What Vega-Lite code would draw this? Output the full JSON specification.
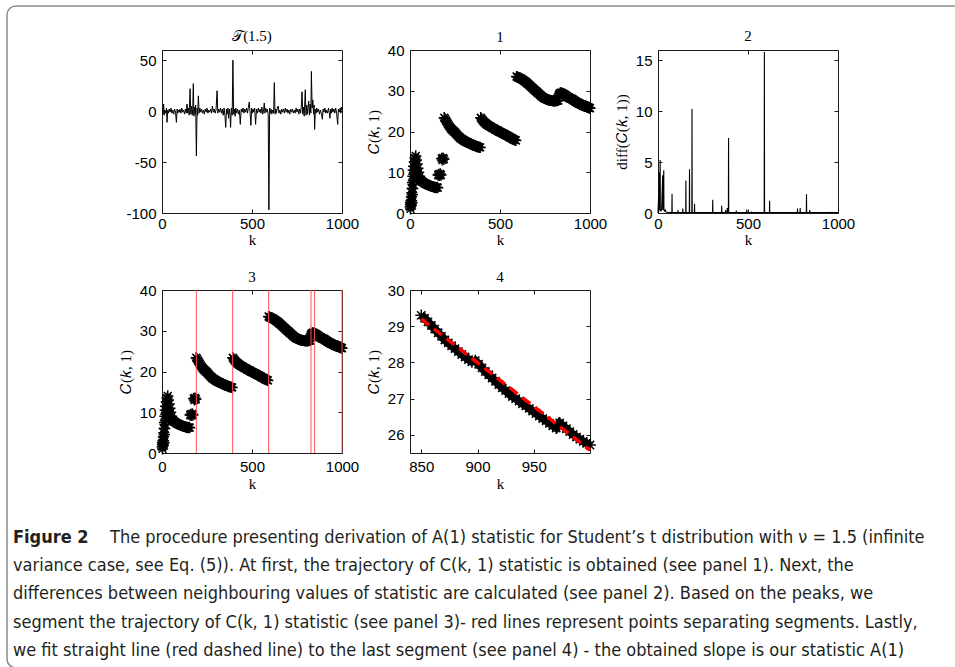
{
"$schema": "https://vega.github.io/schema/vega-lite/v6.json",
"padding": {"left": 6, "top": 5, "right": 0, "bottom": 0},
"background": "white",
"bounds": "flush",
"columns": 4,
"align": "each",
"spacing": {"row": 77, "column": 68},
"datasets": {
"T": [{"k":0,"v":2},{"k":5,"v":-3},{"k":9,"v":7},{"k":12,"v":-4},{"k":15,"v":1},{"k":20,"v":-2},{"k":25,"v":3},{"k":28,"v":-11},{"k":32,"v":1},{"k":36,"v":-2},{"k":40,"v":2},{"k":45,"v":-1},{"k":50,"v":3},{"k":55,"v":-2},{"k":60,"v":1},{"k":65,"v":-3},{"k":70,"v":2},{"k":75,"v":-1},{"k":80,"v":-11},{"k":84,"v":2},{"k":88,"v":-2},{"k":92,"v":1},{"k":96,"v":-1},{"k":100,"v":2},{"k":105,"v":-2},{"k":110,"v":3},{"k":115,"v":-1},{"k":120,"v":1},{"k":125,"v":-3},{"k":130,"v":2},{"k":135,"v":-2},{"k":139,"v":7},{"k":143,"v":-2},{"k":147,"v":3},{"k":151,"v":-4},{"k":156,"v":22},{"k":160,"v":-3},{"k":164,"v":5},{"k":168,"v":-4},{"k":171,"v":3},{"k":174,"v":27},{"k":177,"v":-5},{"k":180,"v":4},{"k":184,"v":-3},{"k":187,"v":6},{"k":191,"v":-44},{"k":195,"v":3},{"k":198,"v":-4},{"k":202,"v":15},{"k":206,"v":-2},{"k":210,"v":3},{"k":215,"v":-1},{"k":220,"v":2},{"k":225,"v":-2},{"k":230,"v":1},{"k":235,"v":-3},{"k":240,"v":2},{"k":245,"v":-1},{"k":250,"v":3},{"k":255,"v":-2},{"k":260,"v":1},{"k":265,"v":-1},{"k":270,"v":2},{"k":275,"v":-2},{"k":280,"v":5},{"k":285,"v":-1},{"k":290,"v":2},{"k":295,"v":-2},{"k":300,"v":1},{"k":306,"v":20},{"k":310,"v":-2},{"k":315,"v":2},{"k":320,"v":-1},{"k":325,"v":3},{"k":330,"v":-2},{"k":335,"v":2},{"k":340,"v":-4},{"k":345,"v":3},{"k":350,"v":-5},{"k":354,"v":-16},{"k":358,"v":2},{"k":362,"v":-3},{"k":366,"v":3},{"k":370,"v":-7},{"k":374,"v":2},{"k":378,"v":-3},{"k":381,"v":-16},{"k":385,"v":3},{"k":390,"v":-4},{"k":394,"v":50},{"k":398,"v":-3},{"k":402,"v":2},{"k":406,"v":-5},{"k":410,"v":3},{"k":415,"v":-2},{"k":420,"v":2},{"k":425,"v":-3},{"k":430,"v":1},{"k":435,"v":-13},{"k":440,"v":2},{"k":445,"v":-1},{"k":450,"v":3},{"k":455,"v":-2},{"k":460,"v":2},{"k":465,"v":-1},{"k":470,"v":3},{"k":475,"v":-2},{"k":480,"v":4},{"k":485,"v":9},{"k":490,"v":-3},{"k":494,"v":-14},{"k":498,"v":3},{"k":502,"v":-2},{"k":506,"v":2},{"k":510,"v":-1},{"k":515,"v":3},{"k":520,"v":-13},{"k":525,"v":2},{"k":530,"v":-2},{"k":535,"v":3},{"k":540,"v":-1},{"k":545,"v":2},{"k":550,"v":-2},{"k":555,"v":4},{"k":560,"v":-3},{"k":565,"v":2},{"k":568,"v":8},{"k":572,"v":-2},{"k":576,"v":3},{"k":580,"v":-1},{"k":585,"v":2},{"k":590,"v":-3},{"k":594,"v":-97},{"k":598,"v":3},{"k":602,"v":-2},{"k":606,"v":2},{"k":610,"v":-3},{"k":615,"v":1},{"k":620,"v":-2},{"k":624,"v":28},{"k":628,"v":-3},{"k":632,"v":2},{"k":636,"v":-2},{"k":640,"v":3},{"k":646,"v":5},{"k":650,"v":-2},{"k":655,"v":1},{"k":660,"v":-3},{"k":665,"v":2},{"k":670,"v":-1},{"k":675,"v":2},{"k":680,"v":-2},{"k":685,"v":3},{"k":690,"v":-1},{"k":695,"v":2},{"k":700,"v":-2},{"k":705,"v":1},{"k":710,"v":-3},{"k":715,"v":2},{"k":720,"v":-1},{"k":725,"v":2},{"k":730,"v":-2},{"k":735,"v":1},{"k":740,"v":-2},{"k":745,"v":3},{"k":750,"v":-1},{"k":755,"v":2},{"k":760,"v":-3},{"k":765,"v":2},{"k":770,"v":-2},{"k":774,"v":5},{"k":778,"v":19},{"k":782,"v":-3},{"k":786,"v":4},{"k":790,"v":-5},{"k":796,"v":21},{"k":800,"v":-4},{"k":804,"v":6},{"k":808,"v":-3},{"k":812,"v":5},{"k":815,"v":10},{"k":819,"v":-4},{"k":823,"v":7},{"k":827,"v":-2},{"k":830,"v":39},{"k":834,"v":3},{"k":838,"v":11},{"k":842,"v":-3},{"k":845,"v":6},{"k":848,"v":-18},{"k":852,"v":2},{"k":856,"v":-2},{"k":860,"v":3},{"k":865,"v":-1},{"k":870,"v":2},{"k":875,"v":-3},{"k":880,"v":1},{"k":885,"v":-2},{"k":891,"v":-8},{"k":895,"v":2},{"k":900,"v":-1},{"k":905,"v":3},{"k":910,"v":-2},{"k":915,"v":1},{"k":920,"v":-2},{"k":925,"v":3},{"k":929,"v":-1},{"k":933,"v":-7},{"k":937,"v":2},{"k":941,"v":-2},{"k":945,"v":3},{"k":950,"v":-1},{"k":955,"v":2},{"k":960,"v":-2},{"k":965,"v":3},{"k":970,"v":-2},{"k":976,"v":-13},{"k":980,"v":2},{"k":985,"v":-1},{"k":990,"v":3},{"k":994,"v":-2},{"k":996,"v":4},{"k":1000,"v":1}],
"C": [{"k":1,"c":1.5},{"k":2,"c":2.5},{"k":3,"c":1.0},{"k":4,"c":2.0},{"k":5,"c":3.0},{"k":6,"c":1.8},{"k":7,"c":2.2},{"k":8,"c":4.0},{"k":9,"c":3.0},{"k":10,"c":5.0},{"k":11,"c":2.5},{"k":12,"c":6.0},{"k":13,"c":4.5},{"k":14,"c":7.5},{"k":15,"c":6.0},{"k":16,"c":9.0},{"k":17,"c":7.0},{"k":18,"c":10.5},{"k":19,"c":8.0},{"k":20,"c":11.5},{"k":22,"c":9.5},{"k":24,"c":12.5},{"k":26,"c":10.0},{"k":28,"c":13.5},{"k":30,"c":11.0},{"k":32,"c":14.0},{"k":34,"c":10.5},{"k":36,"c":13.0},{"k":38,"c":9.5},{"k":40,"c":12.0},{"k":42,"c":9.0},{"k":44,"c":11.0},{"k":46,"c":8.5},{"k":48,"c":10.0},{"k":50,"c":8.5},{"k":53,"c":9.0},{"k":56,"c":8.2},{"k":60,"c":8.0},{"k":65,"c":7.8},{"k":70,"c":7.6},{"k":75,"c":7.5},{"k":80,"c":7.3},{"k":85,"c":7.2},{"k":90,"c":7.1},{"k":95,"c":7.0},{"k":100,"c":6.9},{"k":105,"c":6.8},{"k":110,"c":6.7},{"k":115,"c":6.6},{"k":120,"c":6.5},{"k":125,"c":6.5},{"k":130,"c":6.4},{"k":135,"c":6.3},{"k":140,"c":6.3},{"k":145,"c":6.2},{"k":150,"c":6.3},{"k":154,"c":6.2},{"k":156,"c":9.3},{"k":160,"c":9.5},{"k":164,"c":9.2},{"k":168,"c":9.6},{"k":172,"c":9.3},{"k":176,"c":13.4},{"k":180,"c":13.0},{"k":184,"c":13.5},{"k":188,"c":13.2},{"k":190,"c":23.4},{"k":195,"c":23.1},{"k":200,"c":22.7},{"k":205,"c":22.3},{"k":210,"c":21.9},{"k":215,"c":21.5},{"k":220,"c":21.2},{"k":225,"c":20.9},{"k":230,"c":20.6},{"k":235,"c":20.4},{"k":240,"c":20.2},{"k":245,"c":20.0},{"k":250,"c":19.8},{"k":255,"c":19.5},{"k":260,"c":19.3},{"k":265,"c":19.0},{"k":270,"c":18.8},{"k":275,"c":18.6},{"k":280,"c":18.4},{"k":285,"c":18.2},{"k":290,"c":18.1},{"k":295,"c":17.9},{"k":300,"c":17.8},{"k":305,"c":17.6},{"k":310,"c":17.5},{"k":315,"c":17.4},{"k":320,"c":17.3},{"k":325,"c":17.2},{"k":330,"c":17.1},{"k":335,"c":17.0},{"k":340,"c":16.9},{"k":345,"c":16.8},{"k":350,"c":16.7},{"k":355,"c":16.6},{"k":360,"c":16.5},{"k":365,"c":16.4},{"k":370,"c":16.3},{"k":375,"c":16.3},{"k":380,"c":16.2},{"k":385,"c":16.1},{"k":390,"c":16.1},{"k":393,"c":23.4},{"k":398,"c":23.1},{"k":403,"c":22.8},{"k":408,"c":22.5},{"k":413,"c":22.3},{"k":418,"c":22.1},{"k":423,"c":21.9},{"k":428,"c":21.7},{"k":433,"c":21.6},{"k":438,"c":21.4},{"k":443,"c":21.3},{"k":448,"c":21.2},{"k":453,"c":21.0},{"k":458,"c":20.9},{"k":463,"c":20.8},{"k":468,"c":20.7},{"k":473,"c":20.5},{"k":478,"c":20.4},{"k":483,"c":20.3},{"k":488,"c":20.2},{"k":493,"c":20.0},{"k":498,"c":19.9},{"k":503,"c":19.8},{"k":508,"c":19.7},{"k":513,"c":19.6},{"k":518,"c":19.5},{"k":523,"c":19.4},{"k":528,"c":19.2},{"k":533,"c":19.1},{"k":538,"c":19.0},{"k":543,"c":18.9},{"k":548,"c":18.8},{"k":553,"c":18.6},{"k":558,"c":18.5},{"k":563,"c":18.4},{"k":568,"c":18.3},{"k":573,"c":18.1},{"k":578,"c":18.0},{"k":583,"c":17.9},{"k":588,"c":17.8},{"k":592,"c":33.5},{"k":596,"c":33.4},{"k":600,"c":33.3},{"k":605,"c":33.2},{"k":610,"c":33.1},{"k":615,"c":33.0},{"k":620,"c":32.9},{"k":625,"c":32.7},{"k":630,"c":32.6},{"k":635,"c":32.4},{"k":640,"c":32.3},{"k":645,"c":32.1},{"k":650,"c":31.9},{"k":655,"c":31.7},{"k":660,"c":31.5},{"k":665,"c":31.3},{"k":670,"c":31.1},{"k":675,"c":30.9},{"k":680,"c":30.7},{"k":685,"c":30.5},{"k":690,"c":30.3},{"k":695,"c":30.1},{"k":700,"c":29.9},{"k":705,"c":29.7},{"k":710,"c":29.5},{"k":715,"c":29.3},{"k":720,"c":29.1},{"k":725,"c":28.9},{"k":730,"c":28.7},{"k":735,"c":28.5},{"k":740,"c":28.4},{"k":745,"c":28.2},{"k":750,"c":28.1},{"k":755,"c":28.0},{"k":760,"c":27.9},{"k":765,"c":27.8},{"k":770,"c":27.7},{"k":775,"c":27.65},{"k":780,"c":27.6},{"k":785,"c":27.6},{"k":790,"c":27.55},{"k":795,"c":27.5},{"k":800,"c":27.5},{"k":805,"c":27.5},{"k":810,"c":27.5},{"k":815,"c":27.55},{"k":820,"c":27.6},{"k":824,"c":27.6},{"k":826,"c":28.9},{"k":830,"c":29.2},{"k":834,"c":29.4},{"k":838,"c":29.5},{"k":842,"c":29.45},{"k":846,"c":29.35},{"k":850,"c":29.30},{"k":853,"c":29.22},{"k":856,"c":29.12},{"k":859,"c":29.02},{"k":862,"c":28.92},{"k":865,"c":28.82},{"k":868,"c":28.72},{"k":871,"c":28.62},{"k":874,"c":28.54},{"k":877,"c":28.46},{"k":880,"c":28.38},{"k":883,"c":28.30},{"k":886,"c":28.22},{"k":889,"c":28.15},{"k":892,"c":28.08},{"k":895,"c":28.02},{"k":898,"c":28.05},{"k":901,"c":27.95},{"k":904,"c":27.85},{"k":907,"c":27.75},{"k":910,"c":27.66},{"k":913,"c":27.57},{"k":916,"c":27.48},{"k":919,"c":27.39},{"k":922,"c":27.30},{"k":925,"c":27.22},{"k":928,"c":27.14},{"k":931,"c":27.06},{"k":934,"c":27.00},{"k":937,"c":26.93},{"k":940,"c":26.86},{"k":943,"c":26.80},{"k":946,"c":26.73},{"k":949,"c":26.66},{"k":952,"c":26.59},{"k":955,"c":26.52},{"k":958,"c":26.45},{"k":961,"c":26.39},{"k":964,"c":26.32},{"k":967,"c":26.25},{"k":970,"c":26.19},{"k":973,"c":26.33},{"k":976,"c":26.25},{"k":979,"c":26.17},{"k":982,"c":26.09},{"k":985,"c":26.01},{"k":988,"c":25.94},{"k":991,"c":25.88},{"k":994,"c":25.82},{"k":997,"c":25.77},{"k":1000,"c":25.72}],
"D": [{"k":0,"d":0},{"k":3,"d":1.5},{"k":4,"d":0.1},{"k":8,"d":4.0},{"k":9,"d":0.3},{"k":12,"d":5.2},{"k":13,"d":0.3},{"k":16,"d":0.2},{"k":20,"d":0.3},{"k":26,"d":3.7},{"k":27,"d":0.3},{"k":32,"d":4.2},{"k":33,"d":0.3},{"k":36,"d":0.2},{"k":40,"d":0.3},{"k":45,"d":0.1},{"k":60,"d":0.05},{"k":77,"d":0.05},{"k":78,"d":1.9},{"k":79,"d":0.05},{"k":110,"d":0.05},{"k":111,"d":0.3},{"k":112,"d":0.05},{"k":137,"d":0.05},{"k":138,"d":0.45},{"k":139,"d":0.05},{"k":154,"d":0.05},{"k":155,"d":3.2},{"k":156,"d":0.05},{"k":174,"d":0.05},{"k":175,"d":4.3},{"k":176,"d":0.05},{"k":188,"d":0.05},{"k":189,"d":10.2},{"k":190,"d":0.05},{"k":202,"d":0.05},{"k":203,"d":0.9},{"k":204,"d":0.05},{"k":303,"d":0.05},{"k":304,"d":1.3},{"k":305,"d":0.05},{"k":353,"d":0.05},{"k":354,"d":0.7},{"k":355,"d":0.05},{"k":375,"d":0.05},{"k":376,"d":0.3},{"k":377,"d":0.05},{"k":384,"d":0.05},{"k":385,"d":0.5},{"k":386,"d":0.05},{"k":391,"d":0.05},{"k":392,"d":7.35},{"k":393,"d":0.05},{"k":434,"d":0.05},{"k":435,"d":0.25},{"k":436,"d":0.05},{"k":492,"d":0.05},{"k":493,"d":0.35},{"k":494,"d":0.05},{"k":519,"d":0.05},{"k":520,"d":0.15},{"k":521,"d":0.05},{"k":590,"d":0.05},{"k":591,"d":15.8},{"k":592,"d":0.05},{"k":619,"d":0.05},{"k":620,"d":1.2},{"k":621,"d":0.05},{"k":774,"d":0.05},{"k":775,"d":0.45},{"k":776,"d":0.05},{"k":789,"d":0.05},{"k":790,"d":0.5},{"k":791,"d":0.05},{"k":824,"d":0.05},{"k":825,"d":1.85},{"k":826,"d":0.05},{"k":842,"d":0.05},{"k":843,"d":0.3},{"k":844,"d":0.05},{"k":966,"d":0.05},{"k":967,"d":0.12},{"k":968,"d":0.05},{"k":1000,"d":0.05}],
"R": [{"k":190.7},{"k":392.6},{"k":592.6},{"k":827.8},{"k":848},{"k":1000}],
"F": [{"k":850,"c":29.2},{"k":1000,"c":25.58}],
"cap": [
{"line":1,"part":"label","text":"Figure 2"},
{"line":1,"part":"body","text":"The procedure presenting derivation of A(1) statistic for Student’s t distribution with ν = 1.5 (infinite"},
{"line":2,"part":"body","text":"variance case, see Eq. (5)). At first, the trajectory of C(k, 1) statistic is obtained (see panel 1). Next, the"},
{"line":3,"part":"body","text":"differences between neighbouring values of statistic are calculated (see panel 2). Based on the peaks, we"},
{"line":4,"part":"body","text":"segment the trajectory of C(k, 1) statistic (see panel 3)- red lines represent points separating segments. Lastly,"},
{"line":5,"part":"body","text":"we fit straight line (red dashed line) to the last segment (see panel 4) - the obtained slope is our statistic A(1)"}
]
},
"concat": [
{"width": 87, "height": 163, "view": {"stroke": null}, "data": {"values": []}, "mark": "point"},
{
"width": 180, "height": 163, "title": {"text": "𝒯(1.5)", "offset": 6},
"data": {"name": "T"},
"layer": [
{"mark": {"type": "line", "color": "black", "strokeWidth": 1, "clip": true},
"encoding": {
"x": {"field": "k", "type": "quantitative", "scale": {"domain": [0, 1000]}, "axis": {"values": [0, 500, 1000], "title": "k"}},
"y": {"field": "v", "type": "quantitative", "scale": {"domain": [-100, 50]}, "axis": {"values": [-100, -50, 0, 50], "title": null, "labelExpr": "replace(datum.label, '−', '-')"}}}},
{"mark": {"type": "point", "opacity": 0},
"encoding": {
"x": {"field": "k", "type": "quantitative", "axis": {"orient": "top", "values": [0, 500, 1000], "labels": false, "title": null}},
"y": {"field": "v", "type": "quantitative", "axis": {"orient": "right", "values": [-100, -50, 0, 50], "labels": false, "title": null}}}}
],
"resolve": {"axis": {"x": "independent", "y": "independent"}}
},
{
"width": 180, "height": 163, "title": {"text": "1", "offset": -2},
"data": {"name": "C"},
"layer": [
{"mark": {"type": "point", "shape": "M-1,0L1,0M0,-1L0,1M-0.7,-0.7L0.7,0.7M-0.7,0.7L0.7,-0.7", "filled": false, "color": "black", "strokeWidth": 1.5, "size": 125, "opacity": 1},
"encoding": {
"x": {"field": "k", "type": "quantitative", "scale": {"domain": [0, 1000]}, "axis": {"values": [0, 500, 1000], "title": "k"}},
"y": {"field": "c", "type": "quantitative", "scale": {"domain": [0, 40]}, "axis": {"values": [0, 10, 20, 30, 40], "title": "𝐶(𝑘, 1)"}}}},
{"mark": {"type": "point", "opacity": 0},
"encoding": {
"x": {"field": "k", "type": "quantitative", "axis": {"orient": "top", "values": [0, 500, 1000], "labels": false, "title": null}},
"y": {"field": "c", "type": "quantitative", "axis": {"orient": "right", "values": [0, 10, 20, 30, 40], "labels": false, "title": null}}}}
],
"resolve": {"axis": {"x": "independent", "y": "independent"}}
},
{
"width": 180, "height": 163, "title": {"text": "2", "offset": 5},
"data": {"name": "D"},
"layer": [
{"mark": {"type": "line", "color": "black", "strokeWidth": 1.1},
"encoding": {
"x": {"field": "k", "type": "quantitative", "scale": {"domain": [0, 1000]}, "axis": {"values": [0, 500, 1000], "title": "k"}},
"y": {"field": "d", "type": "quantitative", "scale": {"domain": [0, 15.8]}, "axis": {"values": [0, 5, 10, 15], "title": "diff(𝐶(𝑘, 1))"}}}},
{"mark": {"type": "point", "opacity": 0},
"encoding": {
"x": {"field": "k", "type": "quantitative", "axis": {"orient": "top", "values": [0, 500, 1000], "labels": false, "title": null}},
"y": {"field": "d", "type": "quantitative", "axis": {"orient": "right", "values": [0, 5, 10, 15], "labels": false, "title": null}}}}
],
"resolve": {"axis": {"x": "independent", "y": "independent"}}
},
{"width": 87, "height": 163, "view": {"stroke": null}, "data": {"values": []}, "mark": "point"},
{
"width": 180, "height": 163, "title": {"text": "3", "offset": -2},
"layer": [
{"data": {"name": "C"},
"mark": {"type": "point", "shape": "M-1,0L1,0M0,-1L0,1M-0.7,-0.7L0.7,0.7M-0.7,0.7L0.7,-0.7", "filled": false, "color": "black", "strokeWidth": 1.5, "size": 125, "opacity": 1},
"encoding": {
"x": {"field": "k", "type": "quantitative", "scale": {"domain": [0, 1000]}, "axis": {"values": [0, 500, 1000], "title": "k", "labelPadding": 10, "titlePadding": 2}},
"y": {"field": "c", "type": "quantitative", "scale": {"domain": [0, 40]}, "axis": {"values": [0, 10, 20, 30, 40], "title": "𝐶(𝑘, 1)"}}}},
{"data": {"name": "R"},
"mark": {"type": "rule", "color": "#ff5050", "strokeWidth": 1},
"encoding": {"x": {"field": "k", "type": "quantitative", "axis": null}}},
{"data": {"name": "C"},
"mark": {"type": "point", "opacity": 0},
"encoding": {
"x": {"field": "k", "type": "quantitative", "axis": {"orient": "top", "values": [0, 500, 1000], "labels": false, "title": null}},
"y": {"field": "c", "type": "quantitative", "axis": {"orient": "right", "values": [0, 10, 20, 30, 40], "labels": false, "title": null}}}}
],
"resolve": {"axis": {"x": "independent", "y": "independent"}}
},
{
"width": 180, "height": 163, "title": {"text": "4", "offset": -2},
"layer": [
{"data": {"name": "C"},
"transform": [{"filter": "datum.k >= 850"}],
"mark": {"type": "line", "color": "black", "strokeWidth": 8},
"encoding": {
"x": {"field": "k", "type": "quantitative", "scale": {"domain": [850, 1000]}, "axis": {"values": [850, 900, 950], "title": "k", "labelPadding": 10, "titlePadding": 2}},
"y": {"field": "c", "type": "quantitative", "scale": {"domain": [25.57, 30]}, "axis": {"values": [26, 27, 28, 29, 30], "title": "𝐶(𝑘, 1)"}}}},
{"data": {"name": "C"},
"transform": [{"filter": "datum.k >= 850"}],
"mark": {"type": "point", "shape": "M-1,0L1,0M0,-1L0,1M-0.7,-0.7L0.7,0.7M-0.7,0.7L0.7,-0.7", "filled": false, "color": "black", "strokeWidth": 1.5, "size": 140, "opacity": 1},
"encoding": {
"x": {"field": "k", "type": "quantitative", "axis": null},
"y": {"field": "c", "type": "quantitative", "axis": null}}},
{"data": {"name": "F"},
"mark": {"type": "line", "color": "#ff0000", "strokeWidth": 3.5, "strokeDash": [10, 6]},
"encoding": {
"x": {"field": "k", "type": "quantitative", "axis": null},
"y": {"field": "c", "type": "quantitative", "axis": null}}},
{"data": {"name": "F"},
"mark": {"type": "point", "opacity": 0},
"encoding": {
"x": {"field": "k", "type": "quantitative", "axis": {"orient": "top", "values": [850, 900, 950], "labels": false, "title": null}},
"y": {"field": "c", "type": "quantitative", "axis": {"orient": "right", "values": [26, 27, 28, 29, 30], "labels": false, "title": null}}}}
],
"resolve": {"axis": {"x": "independent", "y": "independent"}}
},
{"width": 180, "height": 10, "view": {"stroke": null}, "data": {"values": []}, "mark": "point"},
{
"width": 87, "height": 138,
"view": {"stroke": null},
"data": {"name": "cap"},
"layer": [
{"data": {"values": [{"box": "figure frame"}]},
"mark": {"type": "rect", "fillOpacity": 0, "stroke": "#8c8c8c", "strokeWidth": 1.5, "cornerRadius": 9},
"encoding": {
"x": {"datum": 0, "type": "quantitative", "scale": {"domain": [0, 100]}, "axis": null},
"x2": {"datum": 1100},
"y": {"datum": -17.87, "type": "quantitative", "scale": {"domain": [0.716, 5.61], "reverse": true}, "axis": null},
"y2": {"datum": 5.61}}},
{"transform": [{"filter": "datum.part == 'label'"}],
"mark": {"type": "text", "align": "left", "baseline": "middle", "font": "DejaVu Sans Condensed", "fontSize": 18, "fontWeight": "bold", "color": "#231f20"},
"encoding": {
"x": {"datum": 6.9, "type": "quantitative", "scale": {"domain": [0, 100]}, "axis": null},
"y": {"field": "line", "type": "quantitative", "scale": {"domain": [0.716, 5.61], "reverse": true}, "axis": null},
"text": {"field": "text"}}},
{"transform": [{"filter": "datum.part == 'body' && datum.line == 1"}],
"mark": {"type": "text", "align": "left", "baseline": "middle", "dx": 97, "font": "DejaVu Sans Condensed", "fontSize": 18, "color": "#231f20"},
"encoding": {
"x": {"datum": 6.9, "type": "quantitative", "scale": {"domain": [0, 100]}, "axis": null},
"y": {"field": "line", "type": "quantitative", "scale": {"domain": [0.716, 5.61], "reverse": true}, "axis": null},
"text": {"field": "text"}}},
{"transform": [{"filter": "datum.line > 1"}],
"mark": {"type": "text", "align": "left", "baseline": "middle", "font": "DejaVu Sans Condensed", "fontSize": 18, "color": "#231f20"},
"encoding": {
"x": {"datum": 6.9, "type": "quantitative", "scale": {"domain": [0, 100]}, "axis": null},
"y": {"field": "line", "type": "quantitative", "scale": {"domain": [0.716, 5.61], "reverse": true}, "axis": null},
"text": {"field": "text"}}}
]
}
],
"config": {
"view": {"stroke": "#1a1a1a", "strokeWidth": 1},
"axis": {"domain": false, "grid": false, "ticks": true, "tickSize": -4, "tickColor": "#1a1a1a", "tickWidth": 1, "format": "d", "labelFont": "Liberation Sans", "labelFontSize": 15, "labelColor": "black", "labelFlush": false, "labelOverlap": false, "titleFont": "Liberation Serif", "titleFontSize": 15, "titleFontWeight": "normal", "titleColor": "black"},
"axisX": {"labelPadding": 7, "titlePadding": 1},
"axisY": {"labelPadding": 10, "titlePadding": 6},
"title": {"font": "Liberation Serif", "fontSize": 15, "fontWeight": "normal", "color": "black", "frame": "group", "offset": 5}
}
}
